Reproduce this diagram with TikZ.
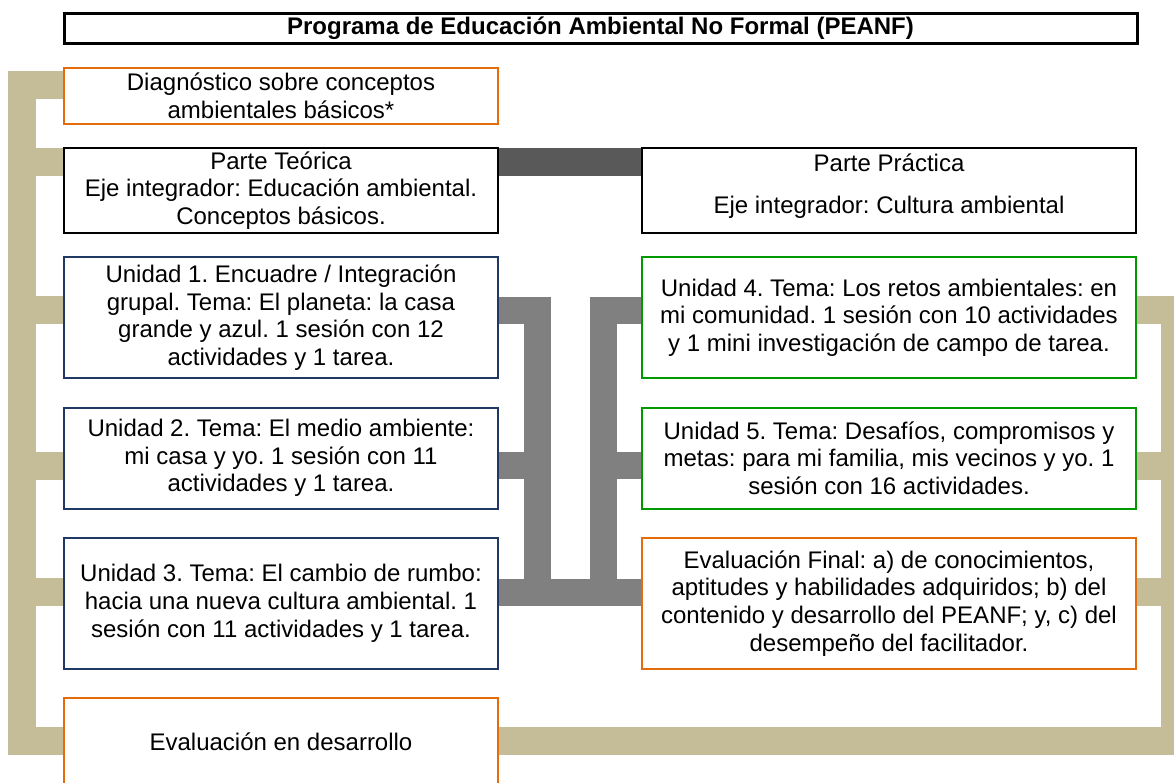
\documentclass[tikz,border=0pt]{standalone}
\usepackage{fontspec}
\setmainfont{Liberation Sans}
\usetikzlibrary{backgrounds}
\definecolor{tanc}{HTML}{C4BD97}
\definecolor{grayc}{HTML}{808080}
\definecolor{darkc}{HTML}{595959}
\definecolor{orangec}{HTML}{E46C0A}
\definecolor{navyc}{HTML}{1F3864}
\definecolor{greenc}{HTML}{009900}
\frenchspacing
\begin{document}
\begin{tikzpicture}[x=1pt,y=-1pt,
 box/.style={draw, fill=white, rectangle, inner sep=0pt, align=center, font=\frenchspacing\fontsize{24}{27.6}\selectfont, line width=2pt},
 lbox/.style={box, minimum width=434pt},
 rbox/.style={box, minimum width=494pt},
 orangebox/.style={draw=orangec},
 navybox/.style={draw=navyc},
 greenbox/.style={draw=greenc},
 blackbox/.style={draw=black, line width=2.5pt},
 tanbar/.style={draw=tanc, line width=28pt, line cap=butt, line join=miter},
 graybar/.style={draw=grayc, line width=27pt, line cap=butt, line join=miter},
 darkbar/.style={draw=darkc, line width=28pt, line cap=butt},
]
\useasboundingbox (0,0) rectangle (1174,782);

\node[box, blackbox, line width=3pt, minimum width=1073pt, minimum height=30pt, font=\frenchspacing\bfseries\fontsize{24}{27.6}\selectfont] (title) at (600.5,28) {Programa de Educación Ambiental No Formal (PEANF)};

\node[lbox, orangebox, minimum height=56.5pt] (diag) at (281,95.75) {Diagnóstico sobre conceptos\\ambientales básicos*};
\node[lbox, blackbox, minimum height=85pt] (pt) at (281,190.5) {Parte Teórica\\Eje integrador: Educación ambiental.\\Conceptos básicos.};
\node[rbox, blackbox, minimum height=85pt] (pp) at (889,190.5) {Parte Práctica\\[13.5pt]Eje integrador: Cultura ambiental\\[-14pt]\mbox{}};

\node[lbox, navybox, minimum height=121pt] (u1) at (281,317.5) {Unidad 1. Encuadre / Integración\\grupal. Tema: El planeta: la casa\\grande y azul. 1 sesión con 12\\actividades y 1 tarea.};
\node[lbox, navybox, minimum height=101pt] (u2) at (281,458) {Unidad 2. Tema: El medio ambiente:\\mi casa y yo. 1 sesión con 11\\actividades y 1 tarea.};
\node[lbox, navybox, minimum height=131.5pt] (u3) at (281,603.25) {Unidad 3. Tema: El cambio de rumbo:\\hacia una nueva cultura ambiental. 1\\sesión con 11 actividades y 1 tarea.};
\node[lbox, orangebox, minimum height=89pt] (ed) at (281,742) {Evaluación en desarrollo};

\node[rbox, greenbox, minimum height=121pt] (u4) at (889,317.5) {Unidad 4. Tema: Los retos ambientales: en\\mi comunidad. 1 sesión con 10 actividades\\y 1 mini investigación de campo de tarea.};
\node[rbox, greenbox, minimum height=101pt] (u5) at (889,458) {Unidad 5. Tema: Desafíos, compromisos y\\metas: para mi familia, mis vecinos y yo. 1\\sesión con 16 actividades.};
\node[rbox, orangebox, minimum height=131.5pt] (ef) at (889,603.25) {Evaluación Final: a) de conocimientos,\\aptitudes y habilidades adquiridos; b) del\\contenido y desarrollo del PEANF; y, c) del\\desempeño del facilitador.};

\begin{scope}[on background layer]
\draw[tanbar] (diag.west |- 0,85) -- (21.5,85) -- (21.5,740.5) -- (1174.5,740.5) -- (1174.5,310) -- (u4.east |- 0,310);
\draw[tanbar] (21.5,162) -- (pt.west |- 0,162);
\draw[tanbar] (21.5,310) -- (u1.west |- 0,310);
\draw[tanbar] (21.5,465.5) -- (u2.west |- 0,465.5);
\draw[tanbar] (21.5,592) -- (u3.west |- 0,592);
\draw[tanbar] (1174.5,465.5) -- (u5.east |- 0,465.5);
\draw[tanbar] (1174.5,592) -- (ef.east |- 0,592);

\draw[graybar] (u1.east |- 0,310) -- (537,310) -- (537,592);
\draw[graybar] (u2.east |- 0,465.5) -- (537,465.5);
\draw[graybar] (u4.west |- 0,310) -- (603.5,310) -- (603.5,592);
\draw[graybar] (u5.west |- 0,465.5) -- (603.5,465.5);
\draw[graybar] (u3.east |- 0,592) -- (ef.west |- 0,592);

\draw[darkbar] (pt.east |- 0,162) -- (pp.west |- 0,162);
\end{scope}
\end{tikzpicture}
\end{document}
